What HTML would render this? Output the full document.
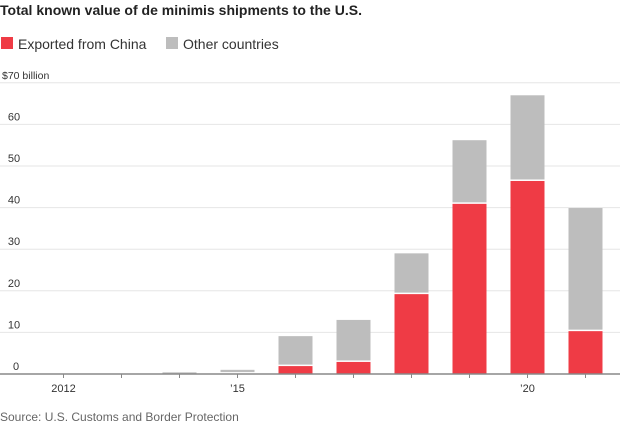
<!DOCTYPE html>
<html><head><meta charset="utf-8"><style>
body{margin:0;background:#fff;font-family:"Liberation Sans",sans-serif;}
svg{display:block}
</style></head><body>
<svg width="620" height="425">
<text x="0" y="15" font-size="14" font-weight="bold" fill="#222" textLength="362">Total known value of de minimis shipments to the U.S.</text>
<g>
<rect x="1" y="37" width="12" height="12" fill="#ef3b45"/>
<text x="18" y="49" font-size="14" fill="#333">Exported from China</text>
<rect x="166" y="37" width="12" height="12" fill="#bdbdbd"/>
<text x="183" y="49" font-size="14" fill="#333">Other countries</text>
</g>
<g id="grid"></g><g id="bars"></g><g id="xaxis"></g>
<text x="0" y="421" font-size="12" fill="#666">Source: U.S. Customs and Border Protection</text>
</svg>
<script>
const years=[2012,2013,2014,2015,2016,2017,2018,2019,2020,2021];
const china=[0,0,0,0.1,1.9,2.9,19.2,40.9,46.4,10.3];
const other=[0,0,0.4,0.9,7.2,10.1,9.8,15.3,20.6,29.6];
const yTicks=[0,10,20,30,40,50,60,70];
const yTickLabels=["0","10","20","30","40","50","60","$70 billion"];
const xLabels={2012:"2012",2015:"\u201915",2020:"\u201920"};
const NS="http://www.w3.org/2000/svg";
const y0=374,pxPer=4.16;
const y=v=>y0-v*pxPer;
const x=i=>63.5+i*58;
function mk(t,a,p){const e=document.createElementNS(NS,t);for(const k in a)e.setAttribute(k,a[k]);p.appendChild(e);return e;}
const g=document.getElementById('grid');
yTicks.forEach((v,i)=>{
 if(v>0){const l=mk('line',{x1:0,x2:620,y1:y(v),y2:y(v),stroke:'#e6e6e6','stroke-width':1},g);
 
 }
 const t=mk('text',{x:v==70?2:14,y:y(v)-4,'font-size':v==70?10.5:11,fill:'#333','text-anchor':v==70?'start':'middle'},g);
 if(v!=70)t.setAttribute('x',v==0?16:14);
 t.textContent=yTickLabels[i];
 
 
});
const b=document.getElementById('bars');
years.forEach((yr,i)=>{
 const cx=x(i),w=34;
 if(china[i]>0){const r=mk('rect',{x:cx-w/2,y:y(china[i]),width:w,height:china[i]*pxPer,fill:'#ef3b45'},b);
 
 }
 if(other[i]>0){const tot=china[i]+other[i];
 const r=mk('rect',{x:cx-w/2,y:y(tot),width:w,height:other[i]*pxPer-(china[i]>0?1.5:0),fill:'#bdbdbd'},b);
 
 }
});
const xa=document.getElementById('xaxis');
const ax=mk('line',{x1:0,x2:620,y1:y0,y2:y0,stroke:'#888','stroke-width':1.5},xa);


years.forEach((yr,i)=>{
 mk('line',{x1:x(i),x2:x(i),y1:y0,y2:y0+4,stroke:'#888'},xa);
 if(xLabels[yr]){const t=mk('text',{x:x(i),y:392,'font-size':11,fill:'#333','text-anchor':'middle'},xa);
 t.textContent=xLabels[yr];
 
 }
});
</script>
</body></html>
